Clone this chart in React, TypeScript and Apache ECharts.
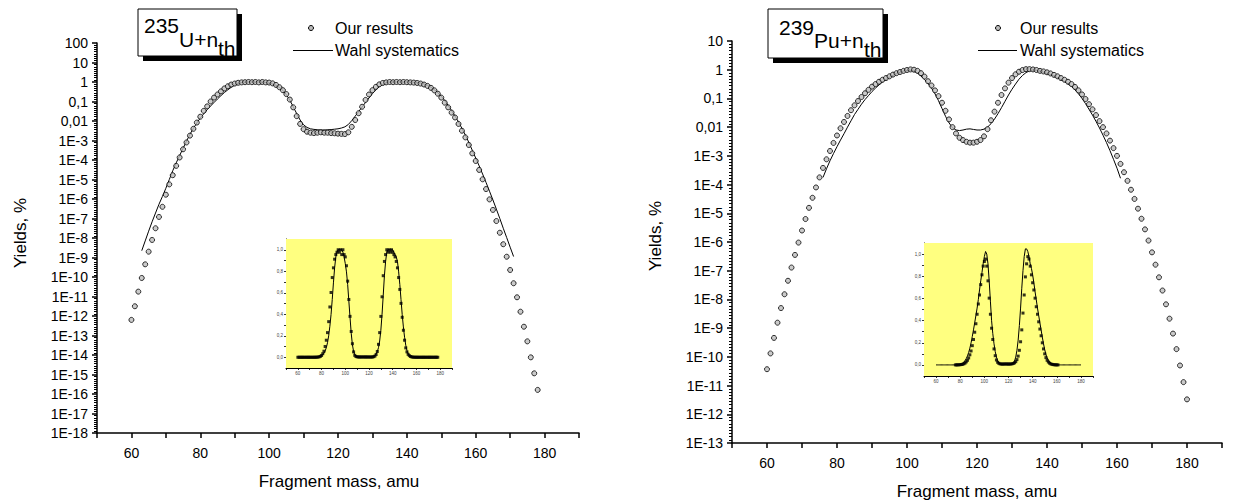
import React, { useEffect, useRef } from 'react';
import * as echarts from 'echarts';

const FONT = '"Liberation Sans", Arial, Helvetica, sans-serif';

// ---------- DATA (log10 of yield, %) ----------
// 235U + n_th, "Our results", masses 60..178
const u235OursStart = 60;
const u235OursLog = [
  -12.2, -11.5, -10.75, -10.05, -9.35, -8.7, -8.1, -7.5, -6.92, -6.4,
  -5.78, -5.25, -4.78, -4.3, -3.87, -3.45, -3.1, -2.75, -2.4, -2.08,
  -1.78, -1.48, -1.25, -1.0, -0.8, -0.64, -0.48, -0.33, -0.22, -0.13,
  -0.08, -0.04, -0.02, -0.01, 0.0, -0.01, 0.0, -0.02, 0.0, -0.02,
  -0.03, -0.07, -0.15, -0.27, -0.42, -0.62, -0.9, -1.3, -1.75, -2.15,
  -2.42, -2.55, -2.6, -2.62, -2.6, -2.58, -2.6, -2.6, -2.62, -2.63,
  -2.65, -2.66, -2.67, -2.58, -2.3, -1.95, -1.6, -1.27, -0.92, -0.64,
  -0.42, -0.25, -0.12, -0.05, -0.02, 0.0, -0.01, 0.0, -0.01, 0.0,
  -0.01, -0.02, -0.03, -0.05, -0.08, -0.13, -0.2, -0.3, -0.43, -0.6,
  -0.8, -1.06, -1.3, -1.57, -1.82, -2.15, -2.5, -2.84, -3.23, -3.66,
  -4.05, -4.51, -4.99, -5.49, -6.02, -6.56, -7.13, -7.73, -8.32, -8.96,
  -9.64, -10.32, -11.04, -11.78, -12.55, -13.3, -14.12, -14.94, -15.79,
];
// 235U + n_th, Wahl systematics, masses 63..171
const u235WahlStart = 63;
const u235WahlLog = [
  -8.65, -8.15, -7.65, -7.17, -6.72, -6.27, -5.87,
  -5.45, -5.0, -4.55, -4.15, -3.77, -3.4, -3.03, -2.68, -2.38, -2.1,
  -1.85, -1.63, -1.42, -1.23, -1.05, -0.87, -0.7, -0.54, -0.4, -0.27,
  -0.16, -0.08, -0.03, -0.01, 0.0, 0.0, 0.0, 0.0, -0.01, -0.03,
  -0.06, -0.1, -0.17, -0.28, -0.43, -0.65, -0.93, -1.27, -1.62, -1.95,
  -2.2, -2.33, -2.4, -2.43, -2.45, -2.46, -2.46, -2.45, -2.44, -2.42,
  -2.4, -2.36, -2.3, -2.18, -1.98, -1.75, -1.52, -1.28, -1.05, -0.82,
  -0.6, -0.4, -0.24, -0.12, -0.05, -0.01, 0.0, 0.0, 0.0, 0.0,
  0.0, -0.01, -0.02, -0.03, -0.05, -0.1, -0.17, -0.27, -0.4, -0.55,
  -0.73, -0.95, -1.2, -1.47, -1.75, -2.05, -2.38, -2.72, -3.1, -3.5,
  -3.9, -4.3, -4.72, -5.15, -5.6, -6.05, -6.52, -7.0, -7.5, -7.98,
  -8.47, -8.95,
];
// 239Pu + n_th, "Our results", masses 60..180
const pu239OursStart = 60;
const pu239OursLog = [
  -10.43, -9.88, -9.34, -8.81, -8.3, -7.82, -7.35, -6.89, -6.45, -6.02,
  -5.6, -5.2, -4.81, -4.46, -4.1, -3.75, -3.42, -3.12, -2.83, -2.55,
  -2.29, -2.04, -1.82, -1.61, -1.41, -1.24, -1.09, -0.95, -0.82, -0.7,
  -0.59, -0.5, -0.42, -0.35, -0.29, -0.23, -0.17, -0.12, -0.08, -0.04,
  -0.01, 0.01, 0.0, -0.04, -0.12, -0.24, -0.4, -0.55, -0.72, -0.92,
  -1.15, -1.43, -1.73, -2.0, -2.22, -2.37, -2.45, -2.51, -2.54, -2.54,
  -2.51, -2.45, -2.32, -2.07, -1.76, -1.46, -1.15, -0.88, -0.65, -0.45,
  -0.29, -0.16, -0.07, -0.01, 0.02, 0.02, 0.01, -0.01, -0.04, -0.06,
  -0.09, -0.13, -0.18, -0.23, -0.29, -0.35, -0.42, -0.5, -0.6, -0.72,
  -0.86, -1.02, -1.2, -1.38, -1.58, -1.79, -2.0, -2.22, -2.47, -2.73,
  -3.0, -3.28, -3.57, -3.87, -4.18, -4.5, -4.84, -5.19, -5.56, -5.95,
  -6.36, -6.79, -7.23, -7.69, -8.17, -8.67, -9.19, -9.73, -10.3, -10.88,
  -11.48,
];
// 239Pu + n_th, Wahl systematics, masses 76..161
const pu239WahlStart = 76;
const pu239WahlLog = [
  -3.75, -3.45, -3.17, -2.92,
  -2.68, -2.45, -2.23, -2.0, -1.78, -1.56, -1.38, -1.2, -1.04, -0.9,
  -0.76, -0.64, -0.53, -0.43, -0.34, -0.26, -0.2, -0.14, -0.09, -0.05,
  -0.03, -0.02, -0.05, -0.12, -0.22, -0.34, -0.48, -0.64, -0.84, -1.08,
  -1.35, -1.62, -1.85, -2.02, -2.1, -2.12, -2.1, -2.07, -2.06, -2.08,
  -2.1, -2.1, -2.07, -2.0, -1.88, -1.72, -1.53, -1.32, -1.1, -0.88,
  -0.68, -0.5, -0.33, -0.2, -0.1, -0.04, -0.01, -0.02, -0.05, -0.09,
  -0.13, -0.17, -0.22, -0.28, -0.34, -0.41, -0.49, -0.58, -0.7, -0.84,
  -1.0, -1.18, -1.38, -1.58, -1.8, -2.03, -2.28, -2.54, -2.82, -3.12,
  -3.43, -3.78,
];

// ---------- TICK LABELS ----------
const massTickLabels = [60, 80, 100, 120, 140, 160, 180];
const u235YLabels = ['100', '10', '1', '0,1', '0,01', '1E-3', '1E-4', '1E-5', '1E-6', '1E-7', '1E-8',
  '1E-9', '1E-10', '1E-11', '1E-12', '1E-13', '1E-14', '1E-15', '1E-16', '1E-17', '1E-18'];
const pu239YLabels = ['10', '1', '0,1', '0,01', '1E-3', '1E-4', '1E-5', '1E-6', '1E-7', '1E-8',
  '1E-9', '1E-10', '1E-11', '1E-12', '1E-13'];
const insetYValues = [0, 0.2, 0.4, 0.6, 0.8, 1.0];
const insetYLabels = ['0,0', '0,2', '0,4', '0,6', '0,8', '1,0'];
const insetYTickValues = [0, 0.1, 0.2, 0.3, 0.4, 0.5, 0.6, 0.7, 0.8, 0.9, 1.0];

// ---------- TEXTS ----------
const titleU = ['235', 'U+n', 'th'];
const titlePu = ['239', 'Pu+n', 'th'];
const legendOurs = 'Our results';
const legendWahl = 'Wahl systematics';
const xAxisTitle = 'Fragment mass, amu';
const yAxisTitle = 'Yields, %';

function logPairs(start: number, arr: number[]) {
  return arr.map((v, i) => [start + i, v]);
}
function linPairs(start: number, arr: number[]) {
  return arr.map((v, i) => [start + i, Math.pow(10, v)]);
}

const black = '#000';

function mainXAxis(gridIndex: number, margin: number) {
  return {
    type: 'value', gridIndex, min: 50, max: 190, interval: 10,
    axisLine: { show: true, onZero: false, lineStyle: { color: black, width: 1.5 } },
    axisTick: { show: true, length: 5, lineStyle: { color: black, width: 1.5 } },
    axisLabel: {
      margin, fontSize: 14, color: black, fontFamily: FONT,
      formatter: (v: number) => (massTickLabels.includes(Math.round(v)) ? String(Math.round(v)) : ''),
    },
    splitLine: { show: false },
  };
}
function mainYAxis(gridIndex: number, min: number, max: number, labels: string[]) {
  return {
    type: 'value', gridIndex, min, max, interval: 1,
    axisLine: { show: true, onZero: false, lineStyle: { color: black, width: 1.5 } },
    axisTick: { show: true, length: 5, lineStyle: { color: black, width: 1.5 } },
    minorTick: { show: true, splitNumber: 9, length: 3, lineStyle: { color: black, width: 1 } },
    axisLabel: {
      margin: 9, fontSize: 14, color: black, fontFamily: FONT,
      formatter: (v: number) => labels[Math.round(max - v)] ?? '',
    },
    splitLine: { show: false },
    minorSplitLine: { show: false },
  };
}
function insetXAxis(gridIndex: number) {
  return {
    type: 'value', gridIndex, min: 50, max: 190, interval: 10,
    axisLine: { show: true, onZero: false, lineStyle: { color: black, width: 1 } },
    axisTick: { show: true, length: 2, lineStyle: { color: black, width: 0.8 } },
    axisLabel: {
      margin: 3, fontSize: 4.5, color: '#444', fontFamily: FONT,
      formatter: (v: number) => (massTickLabels.includes(Math.round(v)) ? String(Math.round(v)) : ''),
    },
    splitLine: { show: false },
  };
}
function insetYAxis(gridIndex: number) {
  return {
    type: 'value', gridIndex, min: -0.1, max: 1.1,
    axisLine: { show: true, onZero: false, lineStyle: { color: black, width: 1 } },
    axisTick: { show: true, length: 2, customValues: insetYTickValues, lineStyle: { color: black, width: 0.8 } },
    axisLabel: {
      margin: 3, fontSize: 4.5, color: '#444', fontFamily: FONT, customValues: insetYValues,
      formatter: (v: number) => insetYLabels[Math.round(v * 5)] ?? '',
    },
    splitLine: { show: false },
  };
}

const circleStyle = { color: '#bdbdbd', borderColor: black, borderWidth: 1 };

function txt(x: number, y: number, text: string, size: number, align = 'left', rotation = 0) {
  return {
    type: 'text', x, y, rotation, z: 100,
    style: { text, fill: black, fontSize: size, fontFamily: FONT, align, verticalAlign: 'middle' },
  };
}

function titleBox(x: number, y: number, w: number, h: number, parts: string[], px: number[], py: number[]) {
  return [
    { type: 'rect', z: 98, shape: { x: x + 5, y: y + 5, width: w, height: h }, style: { fill: black } },
    { type: 'rect', z: 99, shape: { x, y, width: w, height: h }, style: { fill: '#fff', stroke: black, lineWidth: 1 } },
    txt(px[0], py[0], parts[0], 21),
    txt(px[1], py[1], parts[1], 21),
    txt(px[2], py[2], parts[2], 21),
  ];
}

function legend(cx: number, tx: number, lx1: number, lx2: number) {
  return [
    { type: 'circle', z: 100, shape: { cx, cy: 28, r: 2.5 }, style: { fill: '#bdbdbd', stroke: black, lineWidth: 1 } },
    txt(tx, 28, legendOurs, 16),
    { type: 'line', z: 100, shape: { x1: lx1, y1: 50.5, x2: lx2, y2: 50.5 }, style: { stroke: black, lineWidth: 1 } },
    txt(tx, 50, legendWahl, 16),
  ];
}

export default function App() {
  const ref = useRef<HTMLDivElement>(null);
  useEffect(() => {
    const chart = echarts.init(ref.current!, null, { renderer: 'svg' });
    const option: any = {
      animation: false,
      backgroundColor: '#fff',
      grid: [
        { left: 97, top: 43, width: 482, height: 390, show: false },
        { left: 732, top: 41, width: 490, height: 402, show: false },
        { left: 286, top: 239, width: 166, height: 129, show: true, backgroundColor: '#ffff80', borderWidth: 0, z: 5 },
        { left: 924, top: 243, width: 169, height: 133, show: true, backgroundColor: '#ffff80', borderWidth: 0, z: 5 },
      ],
      xAxis: [mainXAxis(0, 13), mainXAxis(1, 13), insetXAxis(2), insetXAxis(3)],
      yAxis: [
        mainYAxis(0, -18, 2, u235YLabels),
        mainYAxis(1, -13, 1, pu239YLabels),
        insetYAxis(2),
        insetYAxis(3),
      ],
      series: [
        {
          name: 'U Wahl', type: 'line', xAxisIndex: 0, yAxisIndex: 0, data: logPairs(u235WahlStart, u235WahlLog),
          showSymbol: false, symbol: 'none', lineStyle: { color: black, width: 1 }, z: 2,
        },
        {
          name: 'U ours', type: 'scatter', xAxisIndex: 0, yAxisIndex: 0, data: logPairs(u235OursStart, u235OursLog),
          symbol: 'circle', symbolSize: 5, itemStyle: circleStyle, z: 3,
        },
        {
          name: 'Pu Wahl', type: 'line', xAxisIndex: 1, yAxisIndex: 1, data: logPairs(pu239WahlStart, pu239WahlLog),
          showSymbol: false, symbol: 'none', lineStyle: { color: black, width: 1 }, z: 2,
        },
        {
          name: 'Pu ours', type: 'scatter', xAxisIndex: 1, yAxisIndex: 1, data: logPairs(pu239OursStart, pu239OursLog),
          symbol: 'circle', symbolSize: 5, itemStyle: circleStyle, z: 3,
        },
        // insets (linear scale)
        {
          name: 'U inset Wahl', type: 'line', xAxisIndex: 2, yAxisIndex: 2, data: linPairs(u235WahlStart, u235WahlLog),
          showSymbol: false, symbol: 'none', lineStyle: { color: black, width: 1 }, z: 10,
        },
        {
          name: 'U inset ours', type: 'scatter', xAxisIndex: 2, yAxisIndex: 2, data: linPairs(u235OursStart, u235OursLog),
          symbol: 'rect', symbolSize: 3, itemStyle: { color: black }, z: 11,
        },
        {
          name: 'Pu inset ours', type: 'line', xAxisIndex: 3, yAxisIndex: 3, data: linPairs(pu239OursStart, pu239OursLog),
          showSymbol: false, symbol: 'none', lineStyle: { color: black, width: 1 }, z: 10,
        },
        {
          name: 'Pu inset Wahl', type: 'scatter', xAxisIndex: 3, yAxisIndex: 3, data: linPairs(pu239WahlStart, pu239WahlLog),
          symbol: 'rect', symbolSize: 3, itemStyle: { color: black }, z: 11,
        },
      ],
      graphic: [
        ...titleBox(138, 9, 99, 47, titleU, [144, 179, 218], [25, 39, 48]),
        ...titleBox(768, 9, 115, 49, titlePu, [779, 814, 864], [27, 40, 49]),
        ...legend(311, 335, 293, 333),
        ...legend(998, 1020, 978, 1017),
        txt(339, 481, xAxisTitle, 17, 'center'),
        txt(977, 491, xAxisTitle, 17, 'center'),
        txt(20, 233, yAxisTitle, 17, 'center', Math.PI / 2),
        txt(655, 236, yAxisTitle, 17, 'center', Math.PI / 2),
      ],
    };
    chart.setOption(option);
    return () => chart.dispose();
  }, []);
  return (
    <div
      ref={ref}
      style={{ position: 'absolute', left: 0, top: 0, width: 1235, height: 504, background: '#fff' }}
    />
  );
}
